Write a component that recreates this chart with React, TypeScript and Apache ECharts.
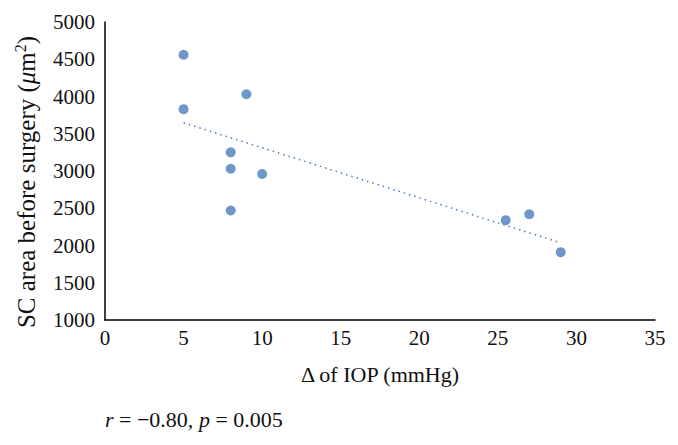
import React, { useEffect, useRef } from "react";
import * as echarts from "echarts";

const iopDelta = [5, 5, 9, 8, 8, 10, 8, 25.5, 27, 29];
const scArea = [4560, 3830, 4030, 3250, 3030, 2960, 2470, 2340, 2420, 1910];
const xTicks = [0, 5, 10, 15, 20, 25, 30, 35];
const yTicks = [1000, 1500, 2000, 2500, 3000, 3500, 4000, 4500, 5000];

const FONT = "'Liberation Serif', 'DejaVu Serif', serif";

function trendEnds() {
  const n = iopDelta.length;
  const mx = iopDelta.reduce((a, b) => a + b, 0) / n;
  const my = scArea.reduce((a, b) => a + b, 0) / n;
  let sxy = 0, sxx = 0;
  for (let i = 0; i < n; i++) {
    sxy += (iopDelta[i] - mx) * (scArea[i] - my);
    sxx += (iopDelta[i] - mx) ** 2;
  }
  const b = sxy / sxx;
  const a = my - b * mx;
  const x0 = Math.min(...iopDelta);
  const x1 = Math.max(...iopDelta);
  return [[x0, a + b * x0], [x1, a + b * x1]];
}

export default function App() {
  const ref = useRef<HTMLDivElement>(null);
  useEffect(() => {
    if (!ref.current) return;
    const chart = echarts.init(ref.current, null, { renderer: "svg" });
    chart.setOption({
      animation: false,
      backgroundColor: "#ffffff",
      grid: { left: 105, right: 23, top: 22, bottom: 125, containLabel: false },
      xAxis: {
        type: "value",
        min: xTicks[0],
        max: xTicks[xTicks.length - 1],
        interval: 5,
        splitLine: { show: false },
        axisTick: { show: false },
        axisLine: { show: true, lineStyle: { color: "#000", width: 1.5 } },
        axisLabel: { fontFamily: FONT, fontSize: 21, color: "#111", margin: 7, formatter: (v: number) => String(v) },
        name: "Δ of IOP (mmHg)",
        nameLocation: "middle",
        nameGap: 43,
        nameTextStyle: { fontFamily: FONT, fontSize: 22, color: "#111" },
      },
      yAxis: {
        type: "value",
        min: yTicks[0],
        max: yTicks[yTicks.length - 1],
        interval: 500,
        splitLine: { show: false },
        axisTick: { show: false },
        axisLine: { show: true, lineStyle: { color: "#000", width: 1.5 } },
        axisLabel: { fontFamily: FONT, fontSize: 21, color: "#111", margin: 10, formatter: (v: number) => String(v) },
      },
      series: [
        {
          type: "scatter",
          data: iopDelta.map((x, i) => [x, scArea[i]]),
          symbolSize: 10,
          itemStyle: { color: "#4a7ebb" },
          z: 3,
        },
        {
          type: "line",
          data: trendEnds(),
          symbol: "none",
          lineStyle: { color: "#4a7ebb", width: 1.5, type: [1.5, 4] },
          z: 2,
        },
      ],
      graphic: [
        {
          type: "text",
          x: 26,
          y: 182,
          rotation: Math.PI / 2,
          style: {
            text: "{n|SC area before surgery (}{i|μ}{n|m}{s|2}{n|)}",
            font: `25px ${FONT}`,
            fill: "#111",
            align: "center",
            verticalAlign: "middle",
            rich: {
              n: { fontFamily: FONT, fontSize: 25, fill: "#111" },
              i: { fontFamily: FONT, fontSize: 25, fill: "#111", fontStyle: "italic" },
              s: { fontFamily: FONT, fontSize: 16, fill: "#111", verticalAlign: "top", padding: [0, 0, 12, 0] },
            },
          },
        },
        {
          type: "text",
          left: 105,
          top: 408,
          style: {
            text: "{i|r} = −0.80, {i|p} = 0.005",
            font: `22px ${FONT}`,
            fill: "#111",
            rich: {
              i: { fontFamily: FONT, fontSize: 22, fontStyle: "italic", fill: "#111" },
            },
          },
        },
      ],
    });
    return () => chart.dispose();
  }, []);
  return <div ref={ref} style={{ width: 678, height: 445, position: "absolute", left: 0, top: 0 }} />;
}
